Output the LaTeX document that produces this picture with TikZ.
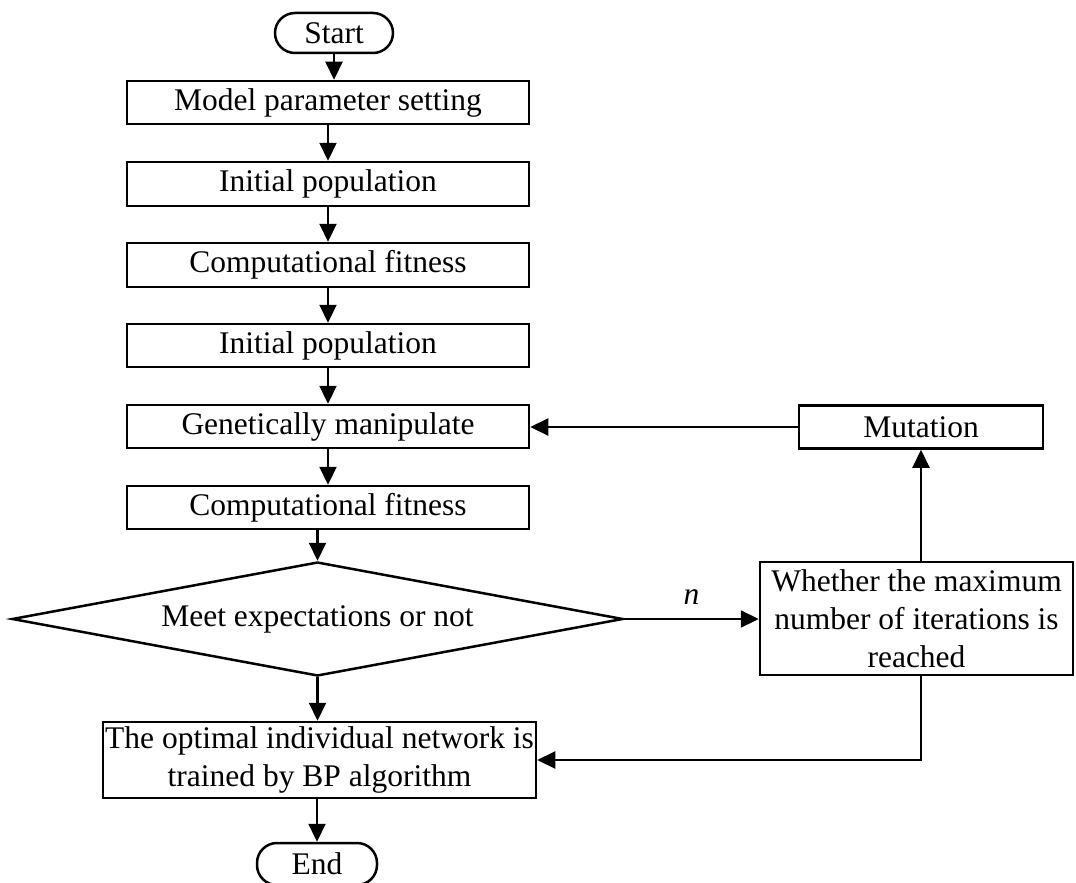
\documentclass[tikz,border=0pt]{standalone}
\usepackage{fontspec}
\setmainfont{Liberation Serif}
\usetikzlibrary{arrows.meta,shapes.geometric,calc}
\begin{document}
\begin{tikzpicture}[x=1pt,y=-1pt,
  every node/.style={font=\fontsize{31.5}{38}\selectfont},
  procbox/.style={draw,line width=2.5pt,rectangle,minimum width=402pt,minimum height=43pt,inner sep=0pt},
  termbox/.style={draw,line width=2.5pt,rectangle,rounded corners=20pt,minimum height=40pt,inner sep=0pt},
  decbox/.style={draw,line width=2.5pt,diamond,aspect=5.36,minimum width=611pt,minimum height=114pt,inner sep=0pt},
  flow/.style={line width=2.2pt,-{Triangle[length=18pt,width=17pt]}}]
\useasboundingbox (0,0) rectangle (1076,883);

% main column
\node[termbox,minimum width=118pt] (start) at (334,33) {Start};
\node[procbox] (mps) at (328,102.5) {Model parameter setting};
\node[procbox,minimum height=44pt] (ip1) at (328,184) {Initial population};
\node[procbox,minimum height=44pt] (cf1) at (328,265) {Computational fitness};
\node[procbox] (ip2) at (328,345.5) {Initial population};
\node[procbox] (gm) at (328,426.5) {Genetically manipulate};
\node[procbox] (cf2) at (328,507.5) {Computational fitness};
\node[decbox] (meet) at (317.5,619) {Meet expectations or not};
\node[procbox,minimum width=433pt,minimum height=76pt,align=center] (bp) at (319.5,760)
  {The optimal individual network is\\trained by BP algorithm};
\node[termbox,minimum width=120pt,minimum height=42pt] (end) at (317,864) {End};

% loop on the right
\node[procbox,minimum width=244pt] (mut) at (921,427) {Mutation};
\node[procbox,minimum width=313pt,minimum height=113pt,align=center] (maxit) at (916.5,618.5)
  {Whether the maximum\\number of iterations is\\reached};

% connectors
\draw[flow] (start.south) -- (start.south |- mps.north);
\draw[flow] (mps.south) -- (ip1.north);
\draw[flow] (ip1.south) -- (cf1.north);
\draw[flow] (cf1.south) -- (ip2.north);
\draw[flow] (ip2.south) -- (gm.north);
\draw[flow] (gm.south) -- (cf2.north);
\draw[flow] (cf2.south -| meet.north) -- (meet.north);
\draw[flow] (meet.south) -- (meet.south |- bp.north);
\draw[flow] (meet.east) -- node[above=10pt] {\textit{n}} (meet.east -| maxit.west);
\draw[flow] (maxit.north -| mut.south) -- (mut.south);
\draw[flow] (mut.west) -- (mut.west -| gm.east);
\draw[flow] (maxit.south -| mut.south) |- (bp.east);
\draw[flow] (bp.south -| end.north) -- (end.north);
\end{tikzpicture}
\end{document}
